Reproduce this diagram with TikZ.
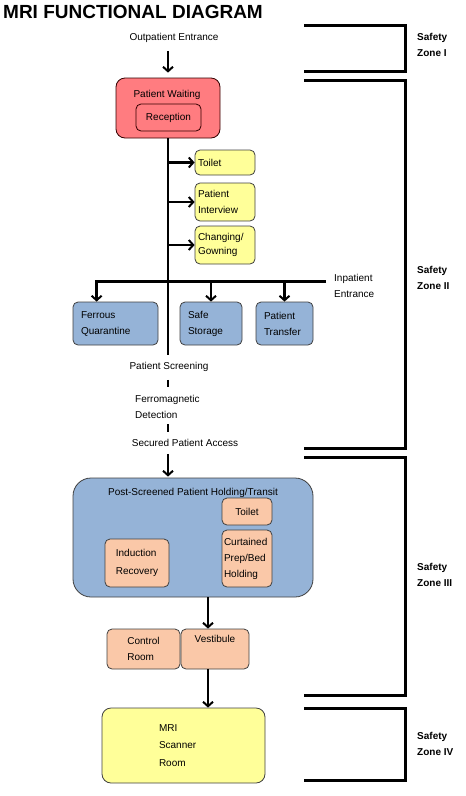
\documentclass[tikz,border=0pt]{standalone}
\usepackage{fontspec}
\setmainfont{Liberation Sans}
\usepackage{xcolor}
\usepackage{tikz}
\usetikzlibrary{positioning, arrows.meta}
\definecolor{waitred}{RGB}{255,124,128}
\definecolor{roomyellow}{RGB}{255,255,153}
\definecolor{roomblue}{RGB}{149,179,215}
\definecolor{roompeach}{RGB}{250,200,168}

\begin{document}
\begin{tikzpicture}[x=1pt, y=-1pt, every node/.style={inner sep=2pt, font=\fontsize{10}{16}\selectfont},
  room/.style={draw=black!75, line width=0.8pt, rounded corners=5pt, align=left},
  redroom/.style={room, fill=waitred, draw=black!80!red},
  yelroom/.style={room, fill=roomyellow, inner xsep=3pt},
  bluroom/.style={room, fill=roomblue, inner xsep=8pt},
  pchroom/.style={room, fill=roompeach},
  zonelbl/.style={font=\bfseries\fontsize{10}{16}\selectfont, align=left, anchor=west},
  arrow/.style={-{Straight Barb[length=4.5pt, width=10pt, line width=2pt]}, line width=2.2pt},
  spine/.style={line width=2pt},
  bar/.style={line width=3pt},
  zone/.style={line width=3pt}]
\useasboundingbox (0,0) rectangle (466,796);

\node[anchor=west, font=\bfseries\fontsize{19}{20}\selectfont] (title) at (1,12) {MRI FUNCTIONAL DIAGRAM};
\node (outpt) at (174,38) {Outpatient Entrance};

% zone I / II
\node[redroom, rounded corners=9pt, minimum width=104, minimum height=60] (wait) at (168,108) {};
\node (waitlbl) at (167,95) {Patient Waiting};
\node[redroom, minimum width=65, minimum height=27] (recep) at (168.5,117.5) {Reception};
\draw[arrow, shorten <=6pt, shorten >=5pt] (outpt.south -| wait) -- (wait.north);

\node[yelroom, text width=54, minimum height=25] (toilet) at (225,162.5) {Toilet};
\node[yelroom, text width=54, minimum height=38] (intv) at (225,202) {Patient\\Interview};
\node[yelroom, text width=54, minimum height=38, font=\fontsize{10}{14}\selectfont] (change) at (225,245) {Changing/\\Gowning};

\coordinate (spineend) at (168,355);
\draw[spine] (wait.south) -- (spineend);
\draw[arrow] (wait.south |- toilet.west) -- (toilet.west);
\draw[arrow] (wait.south |- intv.west) -- (intv.west);
\draw[arrow] (wait.south |- change.west) -- (change.west);

\node[bluroom, text width=69, minimum height=43] (fq) at (115.5,323.5) {Ferrous\\Quarantine};
\node[bluroom, text width=46, minimum height=43] (ss) at (211,323.5) {Safe\\Storage};
\node[bluroom, text width=41, minimum height=43, inner xsep=8pt] (ptr) at (284.5,323.5) {Patient\\Transfer};

\node[anchor=west, align=left] (inpt) at (332,286) {Inpatient\\Entrance};
\coordinate (barend) at (326,281);
\coordinate (fqin) at ([xshift=24pt]fq.north west);
\draw[arrow, line width=3pt] (barend) -- (barend -| fqin) -- (fqin);
\draw[arrow] (barend -| ss) -- (ss.north);
\draw[arrow] (barend -| ptr) -- (ptr.north);

\node (screen) at (169,367) {Patient Screening};
\node[anchor=west, align=left] (ferro) at (133,407) {Ferromagnetic\\Detection};
\node (secured) at (185,443) {Secured Patient Access};
\draw[spine, shorten <=6pt, shorten >=6pt] (screen.south -| wait) -- (ferro.north -| wait);
\draw[spine, shorten <=3.5pt, shorten >=5.5pt] (ferro.south -| wait) -- (secured.north -| wait);

% zone III
\node[room, fill=roomblue, rounded corners=18pt, minimum width=240, minimum height=119] (post) at (193,537.5) {};
\node (postlbl) at (193,493) {Post-Screened Patient Holding/Transit};
\draw[arrow, shorten <=5pt, shorten >=1pt] (secured.south -| wait) -- (post.north -| wait);
\node[pchroom, minimum width=50, minimum height=27] (ptoilet) at (247,511.5) {Toilet};
\node[pchroom, text width=46, inner xsep=2pt, minimum height=57] (curtain) at (247,558.5) {Curtained\\Prep/Bed\\Holding};
\node[pchroom, minimum width=64, minimum height=48, font=\fontsize{10}{18}\selectfont] (induct) at (137,563) {Induction\\Recovery};

\node[pchroom, minimum width=73, minimum height=40] (ctrl) at (143.5,649) {Control\\Room};
\node[pchroom, minimum width=68, minimum height=40] (vest) at (215,649) {Vestibule\\\strut};
\coordinate (vin) at ([xshift=-7pt]vest.north);
\draw[arrow] (post.south -| vin) -- (vin);

% zone IV
\node[room, fill=roomyellow, rounded corners=9pt, minimum height=75, inner xsep=57pt, text width=49,
  font=\fontsize{10}{17.5}\selectfont] (mri) at (183.5,745.5) {MRI\\Scanner\\Room};
\draw[arrow] (vest.south -| vin) -- (mri.north -| vin);

% safety zones
\foreach \ztop/\zbot in {25/71, 80/448, 457/695, 708/780}
  \draw[zone] (304,\ztop) -- (405,\ztop) -- (405,\zbot) -- (304,\zbot);
\node[zonelbl] (zoneI) at (415,45) {Safety\\Zone I};
\node[zonelbl] (zoneII) at (415,278) {Safety\\Zone II};
\node[zonelbl] (zoneIII) at (415,575) {Safety\\Zone III};
\node[zonelbl] (zoneIV) at (415,743.5) {Safety\\Zone IV};
\end{tikzpicture}
\end{document}
